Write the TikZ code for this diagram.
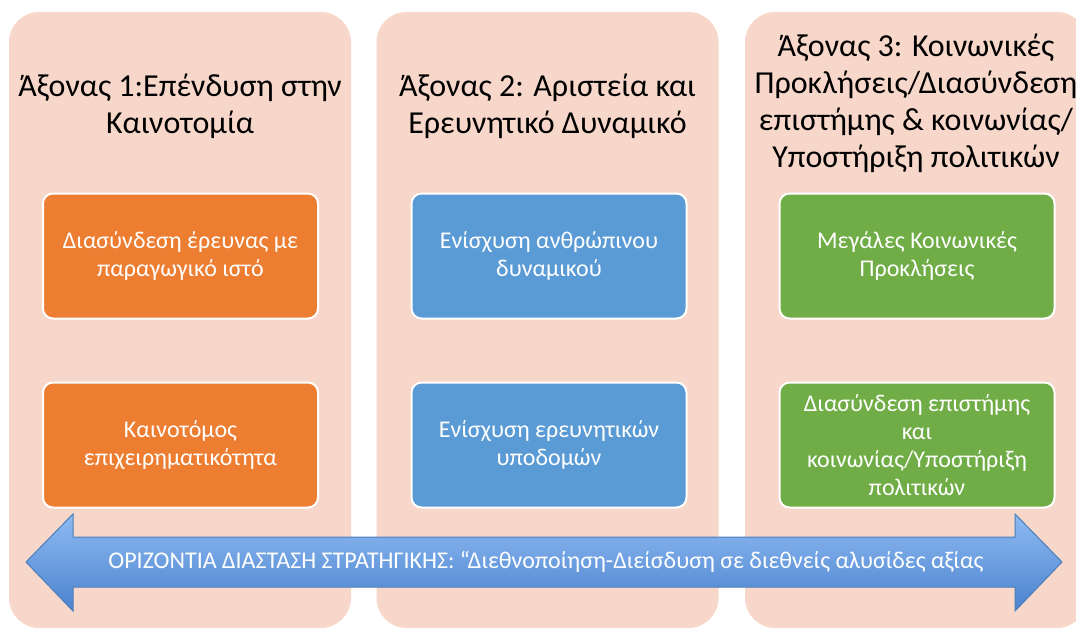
\documentclass[tikz,border=0pt]{standalone}
\usepackage{fontspec}
\setmainfont{Carlito}
\definecolor{axonfill}{HTML}{F8D7CB}
\definecolor{portokali}{HTML}{ED7D31}
\definecolor{ble}{HTML}{5B9BD5}
\definecolor{prasino}{HTML}{70AD47}
\definecolor{velospano}{HTML}{8FBAF3}
\definecolor{velokato}{HTML}{4A83CD}
\definecolor{velogrammi}{HTML}{4A7EBB}
\tikzset{
	axonas/.style={rectangle, rounded corners=30pt, fill=axonfill, minimum width=342pt, minimum height=616pt, inner sep=0pt},
	titlos/.style={align=center, font=\fontsize{32}{37}\selectfont},
	drasi/.style={rectangle, rounded corners=10pt, draw=white, line width=2pt, minimum width=275pt, minimum height=125pt, align=center, text=white, font=\fontsize{24}{28}\selectfont},
}
\begin{document}
\begin{tikzpicture}[x=1pt, y=-1pt]
		\useasboundingbox (0,0) rectangle (1076,627);
		\clip (0,0) rectangle (1076,627);
	% Axones
		\node[axonas] (ax1) at (180,320) {};
		\node[axonas] (ax2) at (547.5,320) {};
		\node[axonas] (ax3) at (916,320) {};
	% Titloi
		\node[titlos] (t1) at (180,106) {Άξονας 1:Επένδυση στην\\Καινοτομία};
		\node[titlos] (t2) at (547.5,106) {Άξονας 2: Αριστεία και\\Ερευνητικό Δυναμικό};
		\node[titlos] (t3) at (916,103) {Άξονας 3: Κοινωνικές\\Προκλήσεις/Διασύνδεση\\επιστήμης \& κοινωνίας/\\Υποστήριξη πολιτικών};
	% Draseis
		\node[drasi, fill=portokali] (d11) at (180.5,256) {Διασύνδεση έρευνας με\\παραγωγικό ιστό};
		\node[drasi, fill=portokali] (d12) at (180.5,445) {Καινοτόμος\\επιχειρηματικότητα};
		\node[drasi, fill=ble] (d21) at (549,256) {Ενίσχυση ανθρώπινου\\δυναμικού};
		\node[drasi, fill=ble] (d22) at (549,445) {Ενίσχυση ερευνητικών\\υποδομών};
		\node[drasi, fill=prasino] (d31) at (917,256) {Μεγάλες Κοινωνικές\\Προκλήσεις};
		\node[drasi, fill=prasino] (d32) at (917,445) {Διασύνδεση επιστήμης\\και\\κοινωνίας/Υποστήριξη\\πολιτικών};
	% Orizontia diastasi
		\shade[top color=velospano, bottom color=velokato, draw=velogrammi, line width=1pt] (26,562) -- (73,514) -- (73,537) -- (1015,537) -- (1015,514) -- (1062,562) -- (1015,611) -- (1015,587) -- (73,587) -- (73,611) -- cycle;
		\node[text=white, font=\fontsize{24}{28}\selectfont] (oriz) at (546,562) {ΟΡΙΖΟΝΤΙΑ ΔΙΑΣΤΑΣΗ ΣΤΡΑΤΗΓΙΚΗΣ: “Διεθνοποίηση-Διείσδυση σε διεθνείς αλυσίδες αξίας};
\end{tikzpicture}
\end{document}
